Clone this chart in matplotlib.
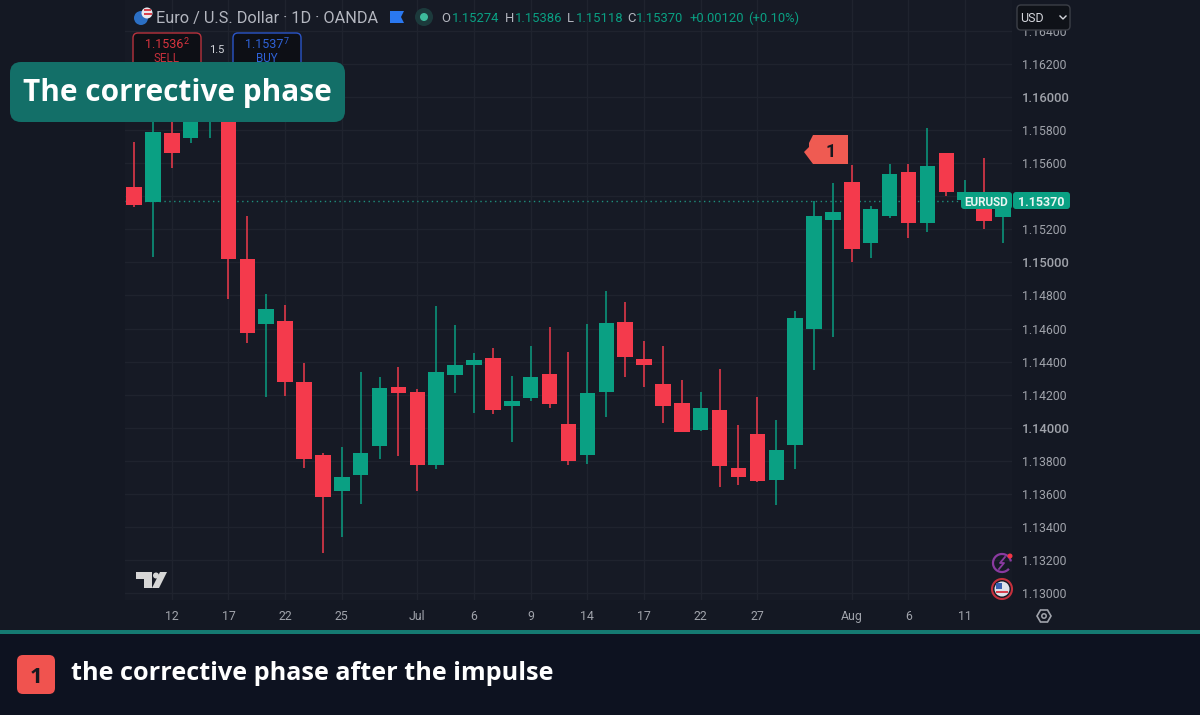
import matplotlib

matplotlib.use('Agg')

import matplotlib.pyplot as plt
from matplotlib.patches import Circle, FancyBboxPatch, Polygon, Rectangle, Arc

# daily candles
opens = [1.15454, 1.15365, 1.15784, 1.15750, 1.15860, 1.15934, 1.15019, 1.14625, 1.14644, 1.14275, 1.13837, 1.13615,
         1.13712, 1.13891, 1.14248, 1.14218, 1.13774, 1.14321, 1.14377, 1.14420, 1.14131, 1.14181, 1.14327, 1.14020,
         1.13837, 1.14218, 1.14641, 1.14414, 1.14266, 1.14148, 1.13984, 1.14105, 1.13754, 1.13960, 1.13684, 1.13897,
         1.14595, 1.15256, 1.15486, 1.15117, 1.15282, 1.15547, 1.15240, 1.15663, 1.15377, 1.15389, 1.15274]
highs = [1.15730, 1.15873, 1.15873, 1.15922, 1.15952, 1.15982, 1.15280, 1.14809, 1.14740, 1.14389, 1.13849, 1.13885,
         1.14339, 1.14308, 1.14369, 1.14236, 1.14736, 1.14621, 1.14450, 1.14480, 1.14313, 1.14496, 1.14611, 1.14456,
         1.14625, 1.14827, 1.14762, 1.14524, 1.14494, 1.14288, 1.14216, 1.14357, 1.14014, 1.14184, 1.14049, 1.14708,
         1.15373, 1.15478, 1.15589, 1.15341, 1.15595, 1.15595, 1.15811, 1.15663, 1.15498, 1.15630, 1.15386]
lows = [1.15333, 1.15031, 1.15569, 1.15724, 1.15752, 1.14777, 1.14514, 1.14184, 1.14192, 1.13754, 1.13244, 1.13337,
        1.13538, 1.13809, 1.13829, 1.13619, 1.13748, 1.14208, 1.14087, 1.14083, 1.13915, 1.14163, 1.14121, 1.13774,
        1.13780, 1.14063, 1.14308, 1.14248, 1.14027, 1.13974, 1.13983, 1.13639, 1.13651, 1.13671, 1.13532, 1.13748,
        1.14347, 1.14550, 1.15004, 1.15025, 1.15268, 1.15146, 1.15182, 1.15401, 1.15347, 1.15200, 1.15118]
closes = [1.15349, 1.15790, 1.15663, 1.15891, 1.15934, 1.15019, 1.14575, 1.14716, 1.14278, 1.13812, 1.13583, 1.13700,
          1.13849, 1.14242, 1.14210, 1.13772, 1.14339, 1.14377, 1.14409, 1.14107, 1.14163, 1.14305, 1.14143, 1.13798,
          1.14210, 1.14635, 1.14426, 1.14377, 1.14131, 1.13976, 1.14117, 1.13768, 1.13700, 1.13676, 1.13865, 1.14665,
          1.15280, 1.15305, 1.15079, 1.15325, 1.15535, 1.15240, 1.15583, 1.15424, 1.15426, 1.15248, 1.15370]

date_pos = [2, 5, 8, 11, 15, 18, 21, 24, 27, 30, 33, 38, 41, 44]
date_labels = ['12', '17', '22', '25', 'Jul', '6', '9', '14', '17', '22', '27', 'Aug', '6', '11']
price_ticks = [1.13, 1.132, 1.134, 1.136, 1.138, 1.14, 1.142, 1.144, 1.146, 1.148, 1.15, 1.152, 1.154, 1.156,
               1.158, 1.16, 1.162, 1.164]
last_price = 1.15370

BG = '#161a25'
GRID = '#1f232e'
GREEN = '#0aa083'
RED = '#f43a4c'
TICK = '#a0a3ab'
HEAD = '#b4b7c0'

W, H = 1200, 715
fig = plt.figure(figsize=(W / 100, H / 100), dpi=100, facecolor='#141823')

# chart area, x 125..1012 and y 0..600 in picture pixels
ax = fig.add_axes([125 / W, 1 - 600 / H, (1012 - 125) / W, 600 / H], facecolor=BG)
ax.set_xlim((125 - 134) / 18.89, (1012 - 134) / 18.89)
ax.set_ylim(1.13 - 7 * 0.002 / 33.06, 1.13 + 593 * 0.002 / 33.06)

for side in ax.spines:
    ax.spines[side].set_visible(False)
ax.yaxis.tick_right()
ax.set_yticks(price_ticks)
ax.set_yticklabels(['%.5f' % p for p in price_ticks], fontfamily='Roboto', fontsize=8.8, color=TICK)
ax.set_xticks(date_pos)
ax.set_xticklabels(date_labels, fontfamily='Roboto', fontsize=8.8, color=TICK)
ax.tick_params(axis='both', length=0)
ax.tick_params(axis='y', pad=7)
ax.tick_params(axis='x', pad=7.5)
for lab, p in zip(ax.get_yticklabels(), price_ticks):
    if abs(p * 100 - round(p * 100)) < 1e-6 and p != 1.13:
        lab.set_fontweight('medium')
        lab.set_fontsize(9.4)
ax.grid(color=GRID, linewidth=1)
ax.set_axisbelow(True)

for i in range(len(opens)):
    col = GREEN if closes[i] >= opens[i] else RED
    ax.vlines(i, lows[i], highs[i], color=col, linewidth=1.2, alpha=0.9, zorder=3)
    ax.bar(i, abs(closes[i] - opens[i]), bottom=min(opens[i], closes[i]), width=0.82, color=col, linewidth=0, zorder=4)

ax.axhline(last_price, color='#1f8f7c', linewidth=1, linestyle=(0, (1, 2.5)), zorder=2)

# overlay in picture pixels for the TradingView furniture
ov = fig.add_axes([0, 0, 1, 1], facecolor='none')
ov.set_xlim(0, W)
ov.set_ylim(H, 0)
ov.axis('off')


def box(x0, y0, x1, y1, r, fc, ec='none', lw=0, z=5):
    p = FancyBboxPatch((x0 + r, y0 + r), x1 - x0 - 2 * r, y1 - y0 - 2 * r, boxstyle='round,pad=%f,rounding_size=%f' % (r, r),
                       fc=fc, ec=ec, lw=lw, zorder=z, mutation_aspect=1)
    ov.add_patch(p)


def label(x, y, s, color=TICK, size=9, weight='normal', ha='left', family='Roboto', z=8):
    ov.text(x, y, s, color=color, fontsize=size, fontweight=weight, ha=ha, va='center_baseline', family=family, zorder=z)


# footer
ov.add_patch(Rectangle((0, 634), W, H - 634, fc='#0d1220', ec='none', zorder=5))
ov.add_patch(Rectangle((0, 630), W, 4, fc='#157a72', ec='none', zorder=6))
box(17, 655, 55, 694, 6, '#f0534f', z=7)
label(36, 675, '1', color='#16181f', size=16, weight='bold', ha='center', family='Open Sans')
label(71, 671, 'the corrective phase after the impulse', color='white', size=18.2, weight='bold', family='Open Sans')

# header
ov.add_patch(Circle((141, 18), 7, fc='#2b6fc4', ec='none', zorder=7))
ov.add_patch(Circle((147, 13), 5.5, fc='#e8e8ee', ec='none', zorder=8))
ov.add_patch(Rectangle((144, 9), 7, 2, fc='#d8434f', ec='none', zorder=9))
ov.add_patch(Rectangle((144, 13), 8, 2, fc='#d8434f', ec='none', zorder=9))
label(156, 17, 'Euro / U.S. Dollar · 1D · OANDA', color=HEAD, size=11.7)
ov.add_patch(Polygon([(390, 11), (404, 11), (401, 17), (404, 23), (390, 23)], fc='#2a78f0', ec='none', zorder=7))
ov.add_patch(Circle((424, 17), 9, fc='#1c3a3c', ec='none', zorder=7))
ov.add_patch(Circle((424, 17), 4, fc='#3dbb9c', ec='none', zorder=8))
for x, s, c in [(441, 'O', HEAD), (452, '1.15274', GREEN), (505, 'H', HEAD), (515, '1.15386', GREEN),
                (567, 'L', HEAD), (576, '1.15118', GREEN), (627, 'C', HEAD), (636, '1.15370', GREEN),
                (689, '+0.00120', GREEN), (748, '(+0.10%)', GREEN)]:
    label(x, 17, s, color=c, size=9.4)

box(1017, 5, 1070, 30, 4, '#0f1218', ec='#3c3f47', lw=1)
label(1020, 17, 'USD', color='#d4d6dc', size=9)
ov.plot([1060, 1063, 1066], [16, 19, 16], color='#d4d6dc', lw=1, zorder=8)

# order buttons
box(133, 33, 201, 70, 5, '#0d0f15', ec='#b8323d', lw=1)
box(233, 33, 301, 70, 5, '#0d0f15', ec='#2a55c8', lw=1)
label(145, 43, '1.1536', color='#d9343f', size=9)
label(184, 40, '2', color='#d9343f', size=6.5)
label(167, 57, 'SELL', color='#c5303c', size=8.4, ha='center')
label(245, 43, '1.1537', color='#2f62d8', size=9)
label(284, 40, '7', color='#2f62d8', size=6.5)
label(267, 57, 'BUY', color='#2f62d8', size=8.4, ha='center')
label(217, 49, '1.5', color='#d4d6dc', size=8, ha='center')

# title tag
box(10, 62, 345, 122, 11, '#136f68', z=9)
label(23, 90, 'The corrective phase', color='white', size=21.4, weight='bold', family='Open Sans', z=10)

# marker 1
ov.add_patch(Polygon([(813, 135), (848, 135), (848, 164), (813, 164), (804, 152), (809, 147), (809, 143)],
                     fc='#ef5b52', ec='none', zorder=7))
label(831, 150, '1', color='#16181f', size=13, weight='bold', ha='center')

# last price tags
box(961, 192, 1012, 209, 3, GREEN, z=7)
label(986.5, 201, 'EURUSD', color='#e8f5f2', size=8.4, weight='bold', ha='center')
box(1013, 192, 1070, 209, 3, GREEN, z=7)
label(1041, 201, '1.15370', color='#e8f5f2', size=9, weight='bold', ha='center')

# tradingview logo
for pts in [[(136, 572), (152, 572), (152, 588), (144, 588), (144, 579), (136, 579)],
            [(160, 572), (167, 572), (159, 588), (152, 588)]]:
    ov.add_patch(Polygon(pts, fc='#d6d6d6', ec='none', zorder=6))
ov.add_patch(Circle((156, 575.5), 3, fc='#d6d6d6', ec='none', zorder=6))

# event icons and settings hexagon
ov.add_patch(Arc((1002, 563), 18, 18, theta1=40, theta2=350, ec='#8a3aa0', lw=1.6, zorder=7))
ov.plot([1005, 1000, 1004, 999], [557, 563, 563, 569], color='#8a3aa0', lw=1.3, zorder=7)
ov.add_patch(Circle((1010, 556), 2.5, fc='#f23645', ec='none', zorder=8))
ov.add_patch(Circle((1002, 589), 10, fc='none', ec='#c5303c', lw=1.5, zorder=7))
ov.add_patch(Circle((1002, 589), 7.5, fc='#dfe3ea', ec='none', zorder=7))
ov.add_patch(Rectangle((996, 583), 6, 6, fc='#3a62b0', ec='none', zorder=8))
ov.add_patch(Rectangle((996, 591), 12, 2, fc='#d9434f', ec='none', zorder=8))
ov.add_patch(Polygon([(1037, 616), (1040.5, 610), (1047.5, 610), (1051, 616), (1047.5, 622), (1040.5, 622)],
                     fc='none', ec='#a0a3ab', lw=1.2, zorder=7))
ov.add_patch(Circle((1044, 616), 2.2, fc='none', ec='#a0a3ab', lw=1.1, zorder=7))

plt.savefig('out.png', dpi=100, facecolor=fig.get_facecolor())
